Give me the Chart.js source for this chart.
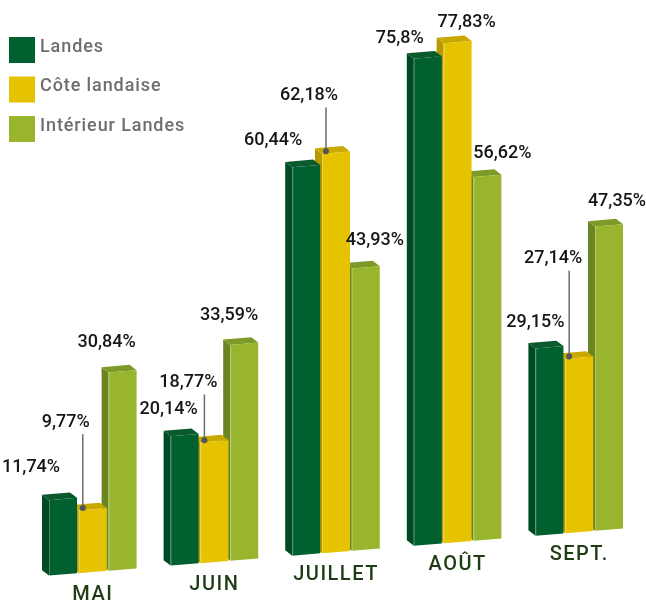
<!DOCTYPE html>
<html>
<head>
<meta charset="utf-8">
<script src="https://cdn.jsdelivr.net/npm/chart.js@4.4.1/dist/chart.umd.min.js"></script>
<style>
  html, body { margin: 0; padding: 0; background: #fff; }
  #wrap { width: 646px; height: 604px; }
</style>
</head>
<body>
<div id="wrap"><canvas id="chart" width="646" height="604"></canvas></div>
<script>
const months = ['MAI', 'JUIN', 'JUILLET', 'AOÛT', 'SEPT.'];
const landes = [11.74, 20.14, 60.44, 75.8, 29.15];
const coteLandaise = [9.77, 18.77, 62.18, 77.83, 27.14];
const interieurLandes = [30.84, 33.59, 43.93, 56.62, 47.35];
const seriesNames = ['Landes', 'Côte landaise', 'Intérieur Landes'];

// couleurs : face avant, côté gauche, dessus
const faces = [
  { front: '#00602f', side: '#004a23', top: '#0b5a2d' },
  { front: '#e6c300', side: '#b89a00', top: '#c9a800' },
  { front: '#99b52e', side: '#6b8522', top: '#7d9a29' }
];

const SKEW = 0.082;          // pente de la ligne de base (perspective)
const DEPTH_X = 7, DEPTH_Y = 6;

// décalage des étiquettes [dx, dy] par rapport au haut de la face avant
const labelShift = [
  [[-32, -32], [-16, -26], [-33, -26], [-28, -19], [-14, -25]],
  [[-27, -87], [-26, -59], [-27, -57], [9, -20], [-26, -99]],
  [[-16, -29], [-15, -28], [9, -27], [15, -22], [8, -24]]
];
const withLeader = [true, true, true, false, true];

function fmt(v) {
  return String(v).replace('.', ',') + '%';
}

function skewY(chart, x, y) {
  const x0 = chart.scales.x.getPixelForValue(0);
  return y - SKEW * (x - x0);
}

const bars3d = {
  id: 'bars3d',
  beforeDatasetsDraw(chart) {
    const x0 = chart.scales.x.getPixelForValue(0);
    chart.ctx.save();
    chart.ctx.transform(1, -SKEW, 0, 1, 0, SKEW * x0);
  },
  beforeDatasetDraw(chart, args) {
    const ctx = chart.ctx;
    const f = faces[args.index];
    args.meta.data.forEach(bar => {
      const l = bar.x - bar.width / 2, r = bar.x + bar.width / 2;
      const t = bar.y, b = bar.base;
      // côté
      ctx.fillStyle = f.side;
      ctx.beginPath();
      ctx.moveTo(l, t);
      ctx.lineTo(l - DEPTH_X, t - DEPTH_Y);
      ctx.lineTo(l - DEPTH_X, b - DEPTH_Y);
      ctx.lineTo(l, b);
      ctx.closePath();
      ctx.fill();
      // dessus
      ctx.fillStyle = f.top;
      ctx.beginPath();
      ctx.moveTo(l, t);
      ctx.lineTo(l - DEPTH_X, t - DEPTH_Y);
      ctx.lineTo(r - DEPTH_X, t - DEPTH_Y);
      ctx.lineTo(r, t);
      ctx.closePath();
      ctx.fill();
    });
  },
  afterDatasetDraw(chart, args) {
    const ctx = chart.ctx;
    // petit reflet sur l'arête avant gauche
    ctx.strokeStyle = 'rgba(255,255,255,0.25)';
    ctx.lineWidth = 1;
    args.meta.data.forEach(bar => {
      const l = bar.x - bar.width / 2 + 0.5;
      ctx.beginPath();
      ctx.moveTo(l, bar.y);
      ctx.lineTo(l, bar.base);
      ctx.stroke();
    });
  },
  afterDatasetsDraw(chart) {
    chart.ctx.restore();
  },
  afterDraw(chart) {
    const ctx = chart.ctx;
    ctx.save();

    // étiquettes de valeurs
    ctx.textAlign = 'center';
    ctx.textBaseline = 'middle';
    chart.data.datasets.forEach((ds, i) => {
      const meta = chart.getDatasetMeta(i);
      meta.data.forEach((bar, j) => {
        const top = skewY(chart, bar.x, bar.y);
        const lx = bar.x + labelShift[i][j][0];
        const ly = top + labelShift[i][j][1];
        if (i === 1 && withLeader[j]) {
          const px = bar.x - bar.width / 2 + 4;
          const py = skewY(chart, px, bar.y - 2);
          ctx.strokeStyle = '#6a6a6a';
          ctx.lineWidth = 1.5;
          ctx.beginPath();
          ctx.moveTo(px, ly + 12);
          ctx.lineTo(px, py);
          ctx.stroke();
          ctx.fillStyle = '#555';
          ctx.beginPath();
          ctx.arc(px, py, 3, 0, Math.PI * 2);
          ctx.fill();
        }
        ctx.fillStyle = '#161616';
        ctx.font = '500 18px Roboto';
        ctx.letterSpacing = '0px';
        ctx.fillText(fmt(ds.data[j]), lx, ly);
      });
    });

    // noms des mois sous chaque groupe
    ctx.fillStyle = '#1f3d14';
    ctx.font = '500 20px Roboto';
    ctx.letterSpacing = '1.5px';
    months.forEach((m, j) => {
      const cx = chart.scales.x.getPixelForValue(j);
      const by = skewY(chart, cx, chart.chartArea.bottom);
      ctx.fillText(m, cx, by + 23);
    });

    // légende
    ctx.textAlign = 'left';
    ctx.letterSpacing = '0.9px';
    chart.data.datasets.forEach((ds, i) => {
      const y = 37 + i * 39.5;
      ctx.fillStyle = faces[i].front;
      ctx.fillRect(9, y, 26, 26);
      ctx.fillStyle = '#6e6e6e';
      ctx.font = '500 18px Roboto';
      ctx.fillText(ds.label, 40, y + 10);
    });

    ctx.restore();
  }
};

new Chart(document.getElementById('chart'), {
  type: 'bar',
  data: {
    labels: months,
    datasets: [
      { label: seriesNames[0], data: landes, backgroundColor: faces[0].front },
      { label: seriesNames[1], data: coteLandaise, backgroundColor: faces[1].front },
      { label: seriesNames[2], data: interieurLandes, backgroundColor: faces[2].front }
    ]
  },
  options: {
    responsive: false,
    animation: false,
    layout: { padding: { left: 32, right: 6, top: 58, bottom: 32 } },
    datasets: {
      bar: { categoryPercentage: 0.735, barPercentage: 0.94, borderWidth: 0, clip: false }
    },
    scales: {
      x: { display: false },
      y: { display: false, min: 0, max: 80 }
    },
    plugins: {
      legend: { display: false },
      tooltip: { enabled: false }
    }
  },
  plugins: [bars3d]
});
</script>
</body>
</html>
